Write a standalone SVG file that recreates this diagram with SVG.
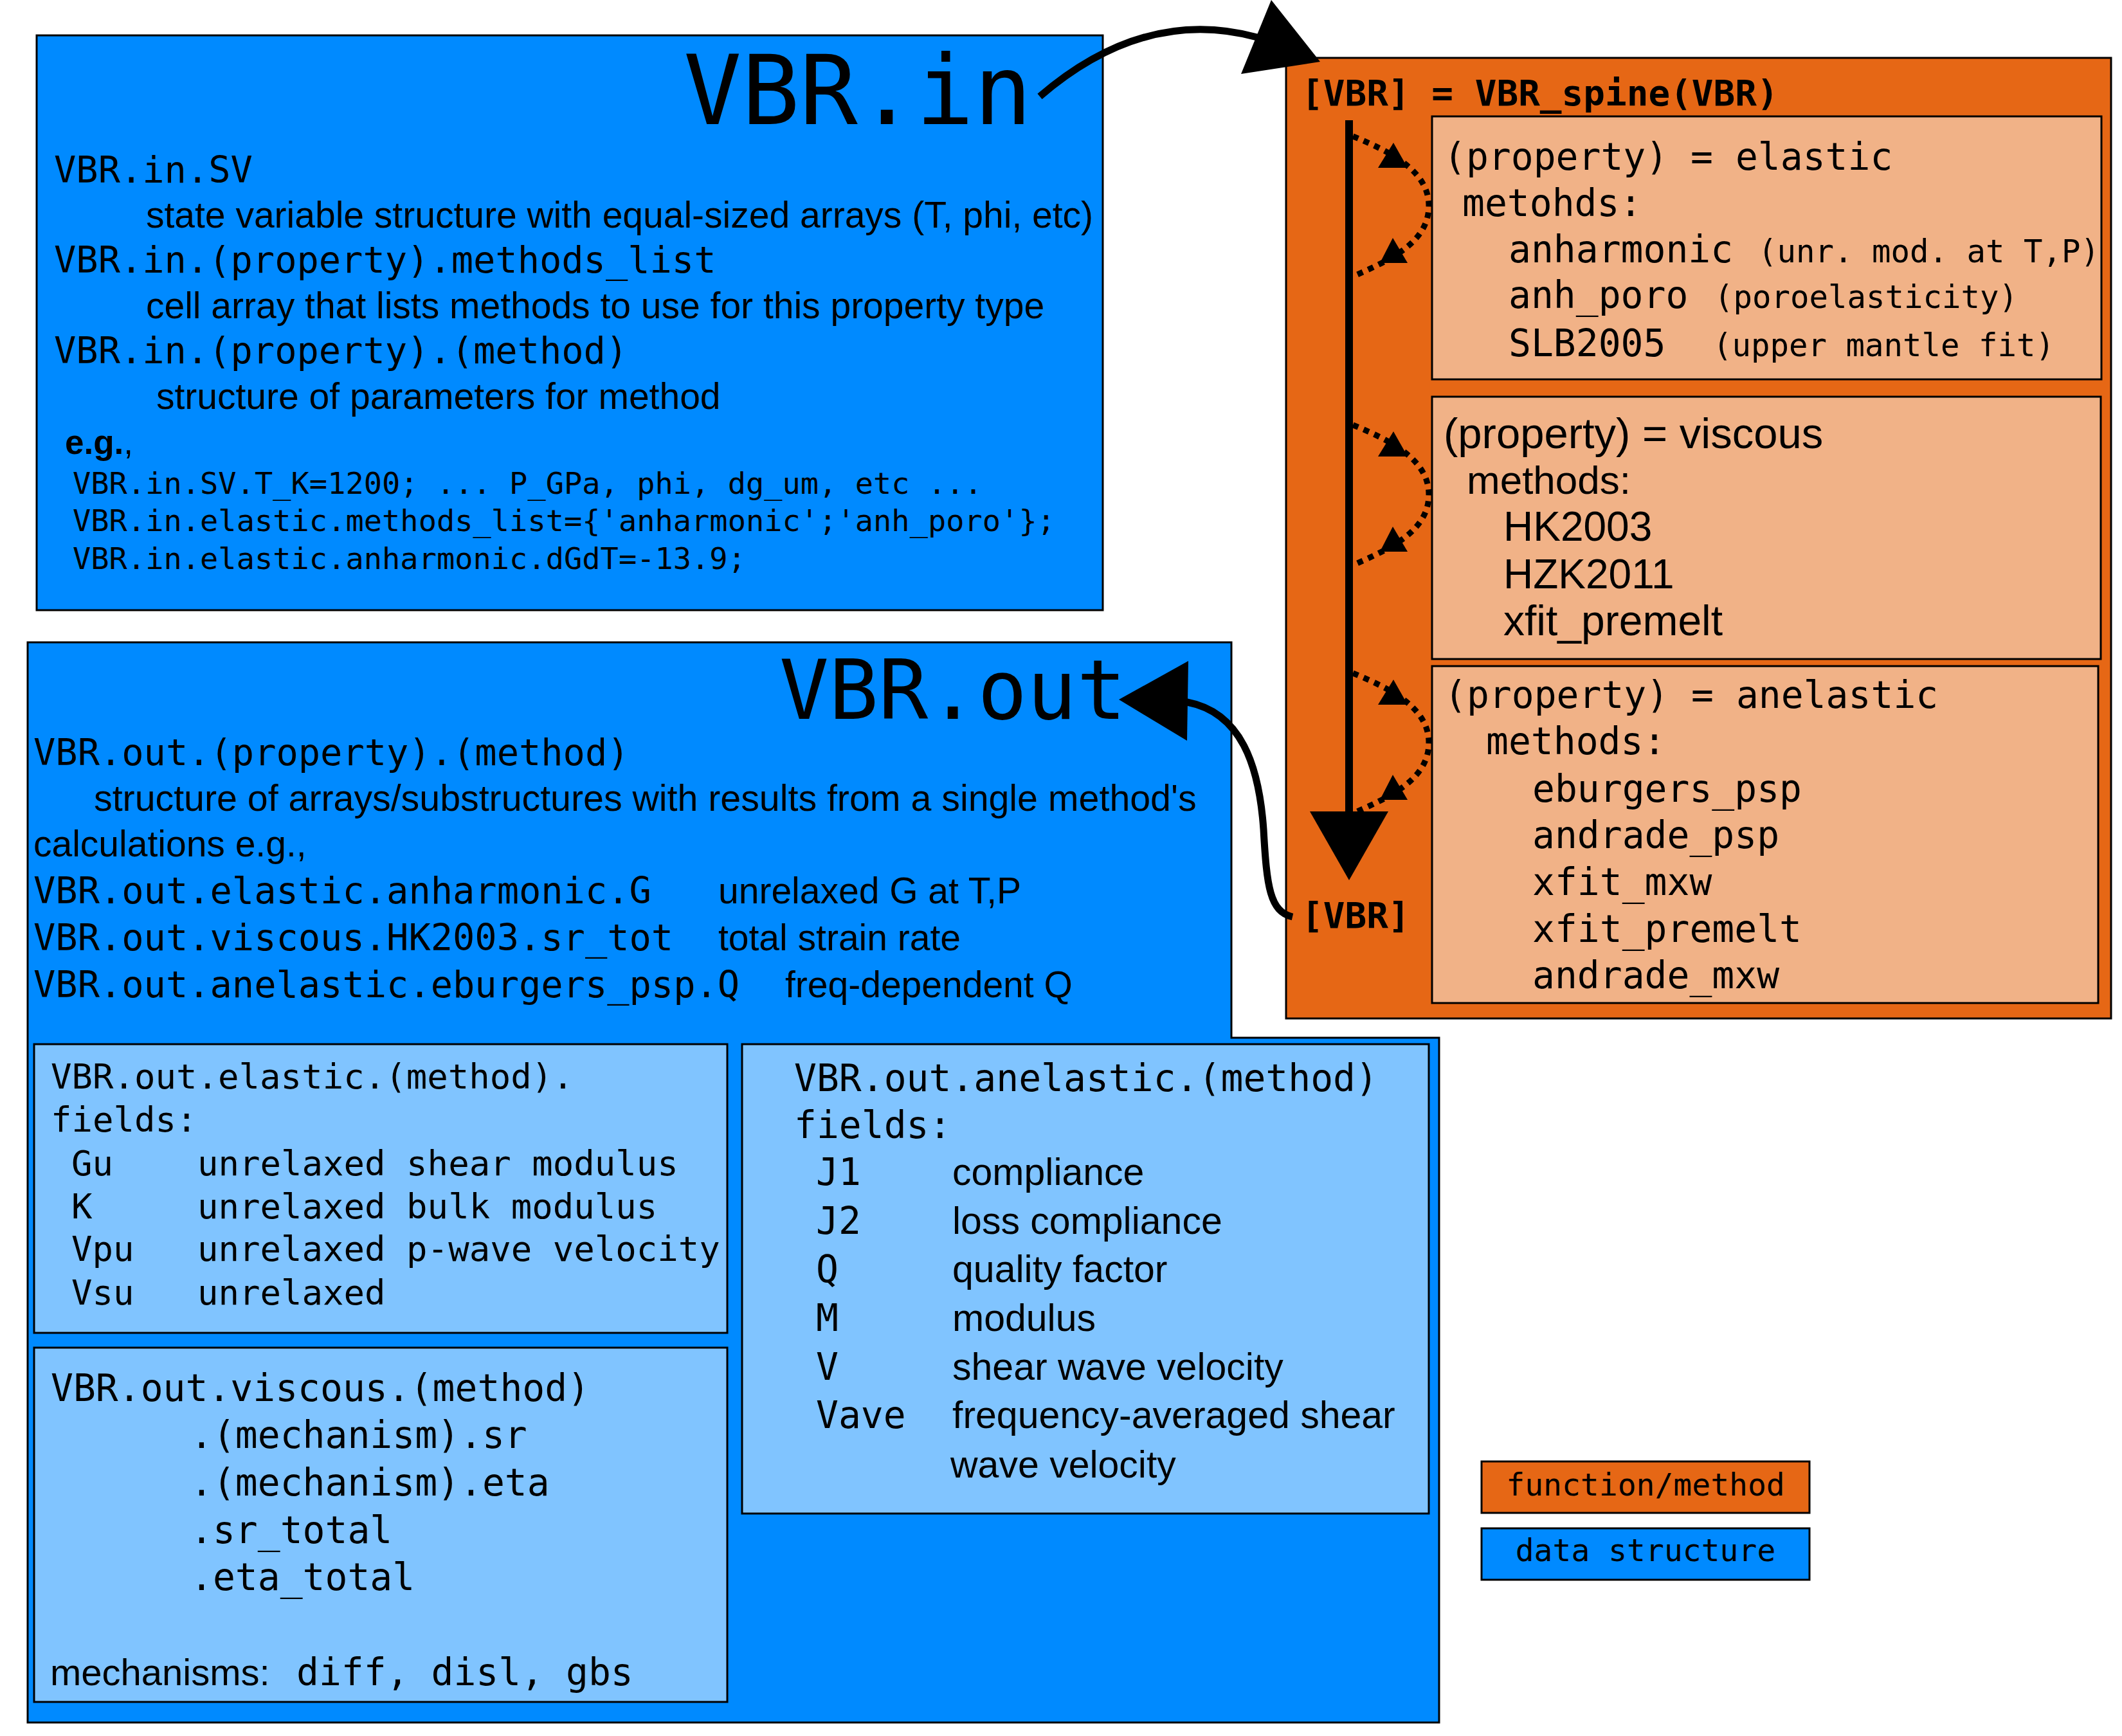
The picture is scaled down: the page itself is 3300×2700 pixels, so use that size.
<svg xmlns="http://www.w3.org/2000/svg" xmlns:xlink="http://www.w3.org/1999/xlink" width="3300" height="2700" viewBox="0 0 3300 2700">
<style>
.m{font-family:"DejaVu Sans Mono","Liberation Mono",monospace;fill:#000}
.s{font-family:"Liberation Sans",Arial,sans-serif;fill:#000}
.b{font-weight:bold}
.blue{fill:#008aff;stroke:#000;stroke-width:3}
.lblue{fill:#80c4ff;stroke:#000;stroke-width:3}
.orange{fill:#e66715;stroke:#000;stroke-width:3}
.salmon{fill:#f1b287;stroke:#000;stroke-width:3}
.dot{fill:none;stroke:#000;stroke-width:9;stroke-dasharray:9 9}
.thick{fill:none;stroke:#000;stroke-width:11}
</style>
<defs>
<g id="loop">
<path class="dot" d="M2104 212 C2160 235 2222 265 2222 320 C2222 378 2160 405 2104 430"/>
<polygon points="2167,222 2143,261 2189,261"/>
<polygon points="2166,370 2146,409 2189,409"/>
</g>
</defs>
<rect width="3300" height="2700" fill="#fff"/>

<g id="vbr-in">
<rect class="blue" x="57" y="55" width="1658" height="894"/>
<text class="m" x="1063" y="193" font-size="150">VBR.in</text>
<text class="m" x="84" y="284" font-size="57">VBR.in.SV</text>
<text class="s" x="227" y="354" font-size="57">state variable structure with equal-sized arrays (T, phi, etc)</text>
<text class="m" x="84" y="424" font-size="57">VBR.in.(property).methods_list</text>
<text class="s" x="227" y="495" font-size="57">cell array that lists methods to use for this property type</text>
<text class="m" x="84" y="565" font-size="57">VBR.in.(property).(method)</text>
<text class="s" x="243" y="636" font-size="57">structure of parameters for method</text>
<text class="s" x="101" y="706" font-size="53"><tspan class="b">e.g.</tspan>,</text>
<text class="m" x="113" y="768" font-size="47">VBR.in.SV.T_K=1200; ... P_GPa, phi, dg_um, etc ...</text>
<text class="m" x="113" y="826" font-size="47">VBR.in.elastic.methods_list={'anharmonic';'anh_poro'};</text>
<text class="m" x="113" y="885" font-size="47">VBR.in.elastic.anharmonic.dGdT=-13.9;</text>
</g>

<g id="vbr-spine">
<rect class="orange" x="2000" y="90" width="1283" height="1494"/>
<text class="m b" x="2024" y="164" font-size="56">[VBR] = VBR_spine(VBR)</text>
<text class="m b" x="2024" y="1443" font-size="56">[VBR]</text>
</g>

<g id="prop-elastic">
<rect class="salmon" x="2227" y="181" width="1041" height="409"/>
<text class="m" x="2245" y="264" font-size="58">(property) = elastic</text>
<text class="m" x="2274" y="336" font-size="58">metohds:</text>
<text class="m" x="2346" y="408" font-size="58">anharmonic</text>
<text class="m" x="2734" y="408" font-size="49">(unr. mod. at T,P)</text>
<text class="m" x="2346" y="479" font-size="58">anh_poro</text>
<text class="m" x="2666" y="479" font-size="49">(poroelasticity)</text>
<text class="m" x="2346" y="554" font-size="58">SLB2005</text>
<text class="m" x="2664" y="554" font-size="49">(upper mantle fit)</text>
</g>

<g id="prop-viscous">
<rect class="salmon" x="2227" y="617" width="1040" height="408"/>
<text class="s" x="2245" y="697" font-size="67">(property) = viscous</text>
<text class="s" x="2281" y="768" font-size="62">methods:</text>
<text class="s" x="2338" y="841" font-size="64">HK2003</text>
<text class="s" x="2338" y="915" font-size="64">HZK2011</text>
<text class="s" x="2338" y="988" font-size="66">xfit_premelt</text>
</g>

<g id="prop-anelastic">
<rect class="salmon" x="2227" y="1036" width="1036" height="524"/>
<text class="m" x="2246" y="1101" font-size="58">(property) = anelastic</text>
<text class="m" x="2311" y="1173" font-size="58">methods:</text>
<text class="m" x="2383" y="1247" font-size="58">eburgers_psp</text>
<text class="m" x="2383" y="1319" font-size="58">andrade_psp</text>
<text class="m" x="2383" y="1392" font-size="58">xfit_mxw</text>
<text class="m" x="2383" y="1465" font-size="58">xfit_premelt</text>
<text class="m" x="2383" y="1537" font-size="58">andrade_mxw</text>
</g>

<g id="vbr-out">
<polygon class="blue" points="43,999 1915,999 1915,1614 2238,1614 2238,2679 43,2679"/>
<text class="m" x="1212" y="1118" font-size="128">VBR.out</text>
<text class="m" x="52" y="1190" font-size="57">VBR.out.(property).(method)</text>
<text class="s" x="146" y="1261" font-size="57.3">structure of arrays/substructures with results from a single method's</text>
<text class="s" x="52" y="1332" font-size="57">calculations e.g.,</text>
<text class="m" x="52" y="1405" font-size="57">VBR.out.elastic.anharmonic.G</text>
<text class="s" x="1117" y="1405" font-size="57">unrelaxed G at T,P</text>
<text class="m" x="52" y="1478" font-size="57">VBR.out.viscous.HK2003.sr_tot</text>
<text class="s" x="1117" y="1478" font-size="57">total strain rate</text>
<text class="m" x="52" y="1551" font-size="57">VBR.out.anelastic.eburgers_psp.Q</text>
<text class="s" x="1221" y="1551" font-size="57">freq-dependent Q</text>
</g>

<g id="out-elastic">
<rect class="lblue" x="53" y="1624" width="1078" height="449"/>
<text class="m" x="79" y="1693" font-size="54">VBR.out.elastic.(method).</text>
<text class="m" x="79" y="1760" font-size="54">fields:</text>
<text class="m" x="111" y="1828" font-size="54">Gu</text>
<text class="m" x="307" y="1828" font-size="54">unrelaxed shear modulus</text>
<text class="m" x="111" y="1895" font-size="54">K</text>
<text class="m" x="307" y="1895" font-size="54">unrelaxed bulk modulus</text>
<text class="m" x="111" y="1961" font-size="54">Vpu</text>
<text class="m" x="307" y="1961" font-size="54">unrelaxed p-wave velocity</text>
<text class="m" x="111" y="2029" font-size="54">Vsu</text>
<text class="m" x="307" y="2029" font-size="54">unrelaxed</text>
</g>

<g id="out-viscous">
<rect class="lblue" x="53" y="2096" width="1078" height="551"/>
<text class="m" x="79" y="2179" font-size="58">VBR.out.viscous.(method)</text>
<text class="m" x="296" y="2252" font-size="58">.(mechanism).sr</text>
<text class="m" x="296" y="2326" font-size="58">.(mechanism).eta</text>
<text class="m" x="296" y="2400" font-size="58">.sr_total</text>
<text class="m" x="296" y="2473" font-size="58">.eta_total</text>
<text class="s" x="78" y="2621" font-size="58">mechanisms:</text>
<text class="m" x="461" y="2621" font-size="58">diff, disl, gbs</text>
</g>

<g id="out-anelastic">
<rect class="lblue" x="1154" y="1624" width="1068" height="730"/>
<text class="m" x="1235" y="1697" font-size="58">VBR.out.anelastic.(method)</text>
<text class="m" x="1235" y="1770" font-size="58">fields:</text>
<text class="m" x="1269" y="1843" font-size="58">J1</text>
<text class="s" x="1481" y="1843" font-size="59">compliance</text>
<text class="m" x="1269" y="1919" font-size="58">J2</text>
<text class="s" x="1481" y="1919" font-size="59">loss compliance</text>
<text class="m" x="1269" y="1994" font-size="58">Q</text>
<text class="s" x="1481" y="1994" font-size="59">quality factor</text>
<text class="m" x="1269" y="2070" font-size="58">M</text>
<text class="s" x="1481" y="2070" font-size="59">modulus</text>
<text class="m" x="1269" y="2146" font-size="58">V</text>
<text class="s" x="1481" y="2146" font-size="59">shear wave velocity</text>
<text class="m" x="1269" y="2221" font-size="58">Vave</text>
<text class="s" x="1481" y="2221" font-size="59">frequency-averaged shear</text>
<text class="s" x="1478" y="2298" font-size="59">wave velocity</text>
</g>

<g id="legend-function">
<rect class="orange" x="2304" y="2273" width="510" height="80"/>
<text class="m" x="2559" y="2326" font-size="48" text-anchor="middle">function/method</text>
</g>
<g id="legend-data">
<rect class="blue" x="2304" y="2377" width="510" height="80" stroke-width="4"/>
<text class="m" x="2559" y="2428" font-size="48" text-anchor="middle">data structure</text>
</g>

<g id="connectors">
<path class="thick" d="M1617 150 Q1780 10 1955 58"/>
<polygon points="2053,96 1977,0 1930,115"/>
<line x1="2098" y1="187" x2="2098" y2="1266" stroke="#000" stroke-width="12"/>
<polygon points="2037,1262 2159,1262 2098,1369"/>
<use xlink:href="#loop"/>
<use xlink:href="#loop" transform="translate(0,449)"/>
<use xlink:href="#loop" transform="translate(0,835)"/>
<path class="thick" d="M1846 1092 C1930 1108 1958 1190 1965 1290 C1970 1380 1975 1418 2010 1426"/>
<polygon points="1740,1088 1848,1028 1846,1152"/>
</g>
</svg>
